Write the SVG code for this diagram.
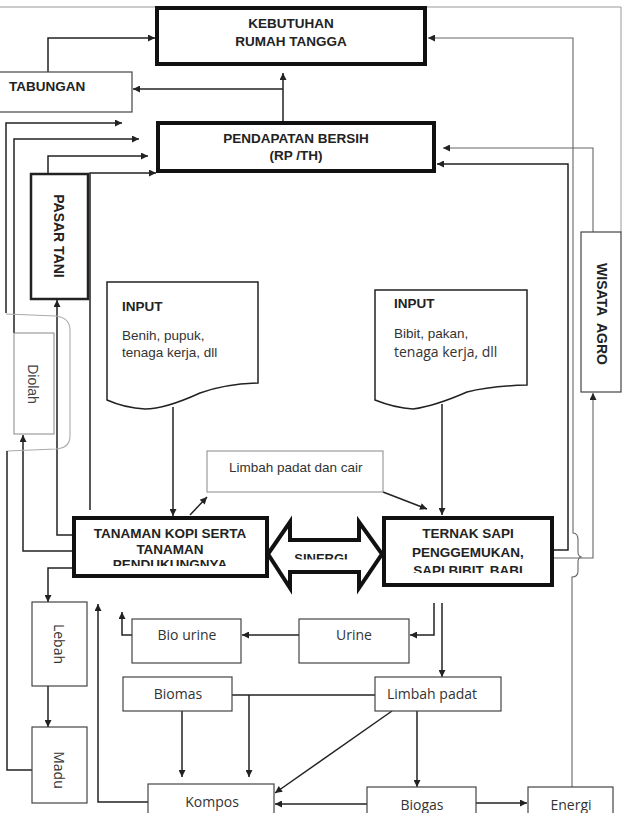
<svg xmlns="http://www.w3.org/2000/svg" width="622" height="813" viewBox="0 0 622 813">
<style>
.c{fill:none;stroke:#222;stroke-width:1.5}
.cg{fill:none;stroke:#666;stroke-width:1.1}
.br{fill:none;stroke:#aaa;stroke-width:1.1}
.fr{fill:none;stroke:#999;stroke-width:1}
.bx{fill:#fff;stroke:#111;stroke-width:4}
.bm{fill:#fff;stroke:#222;stroke-width:2.5}
.bt{fill:#fff;stroke:#444;stroke-width:1.2}
.bl{fill:#fff;stroke:#888;stroke-width:1}
.hb{font-family:"Liberation Sans",Arial,sans-serif;font-weight:bold;font-size:13.5px;fill:#222;text-anchor:middle}
.hl{font-family:"Liberation Sans",Arial,sans-serif;font-weight:bold;font-size:13.5px;fill:#222}
.ar{font-family:"Liberation Sans",Arial,sans-serif;font-size:13.5px;fill:#333}
.os{font-family:"Open Sans",sans-serif;font-size:14px;fill:#333;text-anchor:middle}
.osl{font-family:"Open Sans",sans-serif;font-size:14px;fill:#333}
</style>
<defs>
<marker id="ah" viewBox="0 0 10 10" refX="10" refY="5" markerWidth="9" markerHeight="7" markerUnits="userSpaceOnUse" orient="auto">
<path d="M0,0 L10,5 L0,10 z" fill="#222"/>
</marker>
<clipPath id="clipTan"><rect x="74" y="518" width="193" height="48"/></clipPath>
<clipPath id="clipTer"><rect x="384" y="518" width="168" height="55"/></clipPath>
<clipPath id="clipSin"><rect x="290" y="540" width="69" height="19.5"/></clipPath>
</defs>
<rect x="0" y="0" width="622" height="813" fill="#fff"/>
<g id="frame">
<path class="fr" d="M0,7 H621 V232"/>
</g>
<g id="connectors">
<path class="c" d="M48,72 V38 H155" marker-end="url(#ah)"/>
<path class="c" d="M283,121 V73" marker-end="url(#ah)"/>
<path class="c" d="M283,89 H133" marker-end="url(#ah)"/>
<path class="c" d="M6,313 V123 H122" marker-end="url(#ah)"/>
<path class="c" d="M14,333 V139 H139" marker-end="url(#ah)"/>
<path class="c" d="M48,173 V156 H148" marker-end="url(#ah)"/>
<path class="c" d="M90,510 V173 H156" marker-end="url(#ah)"/>
<path class="c" d="M72,535 H57 V300" marker-end="url(#ah)"/>
<path class="c" d="M72,551 H23 V435" marker-end="url(#ah)"/>
<path class="c" d="M72,568 H48 V602" marker-end="url(#ah)"/>
<path class="c" d="M48,686 V727" marker-end="url(#ah)"/>
<path class="br" d="M6,314 L56,316 Q70,318 70,330 V436 Q70,448 56,449 L7,451"/>
<path class="c" d="M32,770 H7 V451"/>
<path class="c" d="M148,802 H98 V604" marker-end="url(#ah)"/>
<path class="c" d="M132,635 H122 V612" marker-end="url(#ah)"/>
<path class="c" d="M299,635 H242" marker-end="url(#ah)"/>
<path class="c" d="M434,603 V635 H410" marker-end="url(#ah)"/>
<path class="c" d="M442,603 V677" marker-end="url(#ah)"/>
<path class="c" d="M232,695 H375"/>
<path class="c" d="M249,695 V777" marker-end="url(#ah)"/>
<path class="c" d="M182,711 V777" marker-end="url(#ah)"/>
<path class="c" d="M392,711 L275,793" marker-end="url(#ah)"/>
<path class="c" d="M367,804 H275" marker-end="url(#ah)"/>
<path class="c" d="M417,711 V787" marker-end="url(#ah)"/>
<path class="c" d="M476,803 H527" marker-end="url(#ah)"/>
<path class="cg" d="M572,787 V577 Q578,577 578,571 V562 Q578,558 581,557 Q578,556 578,552 V540 Q578,533 573,533 V38 H428" marker-end="url(#ah)"/>
<path class="c" d="M553,550 H568 V164 H437" marker-end="url(#ah)"/>
<path class="cg" d="M553,558 H593 V393" marker-end="url(#ah)"/>
<path class="cg" d="M593,232 V148 H443" marker-end="url(#ah)"/>
<path class="c" d="M173,407 V516" marker-end="url(#ah)"/>
<path class="c" d="M190,515 L207,497" marker-end="url(#ah)"/>
<path class="c" d="M383,492 L427,509" marker-end="url(#ah)"/>
<path class="c" d="M442,404 V515" marker-end="url(#ah)"/>
</g>
<g id="kebutuhan">
<rect class="bx" x="157" y="8" width="268" height="56"/>
<text class="hb" x="291" y="28">KEBUTUHAN</text>
<text class="hb" x="291" y="46">RUMAH TANGGA</text>
</g>
<g id="tabungan">
<rect class="bt" x="-1" y="72" width="133" height="40"/>
<text class="hl" x="9" y="91">TABUNGAN</text>
</g>
<g id="pendapatan">
<rect class="bx" x="158" y="123" width="276" height="48"/>
<text class="hb" x="296" y="143">PENDAPATAN BERSIH</text>
<text class="hb" x="296" y="160">(RP /TH)</text>
</g>
<g id="pasar-tani">
<rect class="bm" x="31" y="174" width="57" height="125"/>
<text class="hb" transform="translate(54,236) rotate(90)" style="font-size:14px">PASAR TANI</text>
</g>
<g id="diolah">
<rect class="bl" x="14" y="333" width="40" height="101"/>
<text class="ar" transform="translate(28,384) rotate(90)" text-anchor="middle" style="font-size:14px;fill:#444">Diolah</text>
</g>
<g id="wisata-agro">
<rect class="bt" x="581" y="232" width="40" height="160"/>
<text class="hb" transform="translate(597,314) rotate(90)" style="font-size:14px" xml:space="preserve">WISATA  AGRO</text>
</g>
<g id="input-kopi">
<path fill="#fff" stroke="#222" stroke-width="1.5" d="M107,282 H258 V383 Q225,384 200,393 Q165,409 145,409 Q125,408 107,400 Z"/>
<text class="hl" x="122" y="311">INPUT</text>
<text class="ar" x="122" y="340">Benih, pupuk,</text>
<text class="ar" x="122" y="357">tenaga kerja, dll</text>
</g>
<g id="input-ternak">
<path fill="#fff" stroke="#222" stroke-width="1.5" d="M375,290 H527 V385 Q490,386 467,392 Q435,406 413,409 Q395,408 375,400 Z"/>
<text class="hl" x="394" y="308">INPUT</text>
<text class="ar" x="394" y="338">Bibit, pakan,</text>
<text class="osl" x="394" y="357">tenaga kerja, dll</text>
</g>
<g id="limbah-padat-cair">
<rect class="bl" x="207" y="451" width="176" height="41"/>
<text class="ar" x="229" y="472">Limbah padat dan cair</text>
</g>
<g id="tanaman-kopi">
<rect class="bx" x="74" y="518" width="193" height="58"/>
<g clip-path="url(#clipTan)">
<text class="hb" x="170" y="538">TANAMAN KOPI SERTA</text>
<text class="hb" x="170" y="554">TANAMAN</text>
<text class="hb" x="170" y="569">PENDUKUNGNYA</text>
</g>
</g>
<g id="sinergi">
<polygon fill="#fff" stroke="#111" stroke-width="4" stroke-linejoin="miter" points="268,554 290,522 290,540 359,540 359,522 382,554 359,588 359,572 290,572 290,588"/>
<g clip-path="url(#clipSin)">
<text class="hb" x="321" y="563" style="font-size:13px">SINERGI</text>
</g>
</g>
<g id="ternak">
<rect class="bx" x="384" y="518" width="168" height="67"/>
<g clip-path="url(#clipTer)">
<text class="hb" x="468" y="538">TERNAK SAPI</text>
<text class="hb" x="468" y="557">PENGGEMUKAN,</text>
<text class="hb" x="468" y="575">SAPI BIBIT, BABI</text>
</g>
</g>
<g id="lebah">
<rect class="bt" x="32" y="602" width="55" height="84"/>
<text class="os" transform="translate(54,644) rotate(90)">Lebah</text>
</g>
<g id="madu">
<rect class="bt" x="32" y="727" width="55" height="76"/>
<text class="os" transform="translate(54,770) rotate(90)">Madu</text>
</g>
<g id="bio-urine">
<rect class="bt" x="132" y="619" width="109" height="44"/>
<text class="os" x="187" y="640">Bio urine</text>
</g>
<g id="urine">
<rect class="bt" x="299" y="619" width="110" height="44"/>
<text class="os" x="354" y="640">Urine</text>
</g>
<g id="biomas">
<rect class="bt" x="123" y="677" width="109" height="34"/>
<text class="os" x="178" y="699">Biomas</text>
</g>
<g id="limbah-padat">
<rect class="bt" x="375" y="677" width="126" height="34"/>
<text class="os" x="432" y="699">Limbah padat</text>
</g>
<g id="kompos">
<rect class="bt" x="148" y="784" width="126" height="40"/>
<text class="os" x="212" y="807">Kompos</text>
</g>
<g id="biogas">
<rect class="bt" x="367" y="787" width="109" height="40"/>
<text class="os" x="422" y="810">Biogas</text>
</g>
<g id="energi">
<rect class="bt" x="528" y="787" width="85" height="40"/>
<text class="os" x="571" y="810">Energi</text>
</g>
</svg>
